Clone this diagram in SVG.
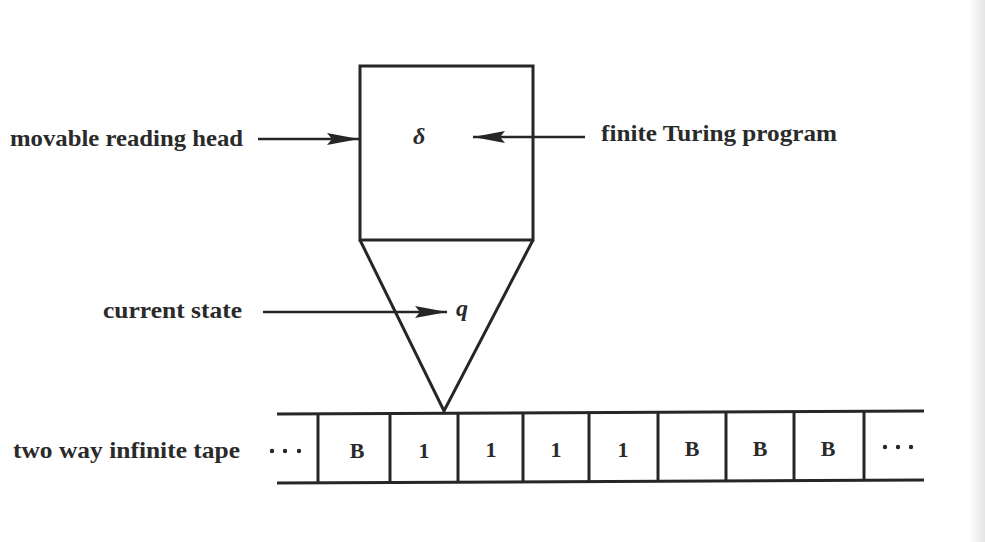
<svg xmlns="http://www.w3.org/2000/svg" width="985" height="542" viewBox="0 0 985 542">
  <defs>
    <marker id="arrowhead" viewBox="0 0 32 12" refX="32" refY="6" markerWidth="32" markerHeight="12" markerUnits="userSpaceOnUse" orient="auto">
      <path d="M0,0 L32,6 L0,12 L5,6 Z" fill="#262626"/>
    </marker>
    <linearGradient id="edgeShade" x1="0" y1="0" x2="1" y2="0">
      <stop offset="0" stop-color="#ffffff"/>
      <stop offset="1" stop-color="#e6e6e6"/>
    </linearGradient>
  </defs>
  <style>
    .ln { stroke: #262626; stroke-width: 3; fill: none; }
    .conn { stroke: #262626; stroke-width: 2.5; fill: none; marker-end: url(#arrowhead); }
    .lbl { font-family: "Liberation Serif", "DejaVu Serif", serif; font-weight: bold; font-size: 23px; fill: #2a2a2a; }
    .sym { font-family: "Liberation Serif", "DejaVu Serif", serif; font-style: italic; font-weight: bold; font-size: 24px; fill: #2a2a2a; }
    .cell { font-family: "Liberation Serif", "DejaVu Serif", serif; font-weight: bold; font-size: 22px; fill: #2a2a2a; text-anchor: middle; }
    .dots { fill: #262626; }
  </style>

  <rect width="985" height="542" fill="#ffffff"/>
  <rect x="968" y="0" width="17" height="542" fill="url(#edgeShade)"/>

  <!-- reading head: program box -->
  <g id="program-box">
    <rect class="ln" x="360" y="66" width="173" height="174"/>
    <text class="sym" x="413" y="144">δ</text>
  </g>

  <!-- reading head: state cone -->
  <g id="state-cone">
    <polyline class="ln" points="360,240 444,411 533,240"/>
    <text class="sym" x="456" y="316">q</text>
  </g>

  <!-- tape -->
  <g id="tape">
    <line class="ln" x1="277" y1="414" x2="924" y2="411"/>
    <line class="ln" x1="277" y1="483" x2="924" y2="480"/>
    <g class="ln">
      <line x1="318" y1="414" x2="318" y2="483"/>
      <line x1="390" y1="414" x2="390" y2="483"/>
      <line x1="458" y1="413" x2="458" y2="482"/>
      <line x1="523" y1="413" x2="523" y2="482"/>
      <line x1="589" y1="413" x2="589" y2="482"/>
      <line x1="658" y1="412" x2="658" y2="481"/>
      <line x1="726" y1="412" x2="726" y2="481"/>
      <line x1="794" y1="412" x2="794" y2="481"/>
      <line x1="864" y1="411" x2="864" y2="480"/>
    </g>
    <g class="dots">
      <circle cx="272" cy="451" r="2.2"/>
      <circle cx="285" cy="451" r="2.2"/>
      <circle cx="299" cy="451" r="2.2"/>
      <circle cx="885" cy="447" r="2.2"/>
      <circle cx="898" cy="447" r="2.2"/>
      <circle cx="911" cy="447" r="2.2"/>
    </g>
    <text class="cell" x="357" y="458">B</text>
    <text class="cell" x="424" y="458">1</text>
    <text class="cell" x="491" y="457">1</text>
    <text class="cell" x="556" y="457">1</text>
    <text class="cell" x="623" y="457">1</text>
    <text class="cell" x="692" y="456">B</text>
    <text class="cell" x="760" y="456">B</text>
    <text class="cell" x="828" y="456">B</text>
  </g>

  <!-- labels -->
  <g id="label-head">
    <text class="lbl" x="10" y="146" textLength="233" lengthAdjust="spacingAndGlyphs">movable reading head</text>
  </g>
  <g id="label-program">
    <text class="lbl" x="601" y="141" textLength="236" lengthAdjust="spacingAndGlyphs">finite Turing program</text>
  </g>
  <g id="label-state">
    <text class="lbl" x="103" y="318" textLength="139" lengthAdjust="spacingAndGlyphs">current state</text>
  </g>
  <g id="label-tape">
    <text class="lbl" x="13" y="458" textLength="227" lengthAdjust="spacingAndGlyphs">two way infinite tape</text>
  </g>

  <!-- connectors -->
  <g id="connectors">
    <line class="conn" x1="258" y1="139" x2="359" y2="139"/>
    <line class="conn" x1="585" y1="137" x2="473" y2="137"/>
    <line class="conn" x1="263" y1="312" x2="447" y2="312"/>
  </g>
</svg>
